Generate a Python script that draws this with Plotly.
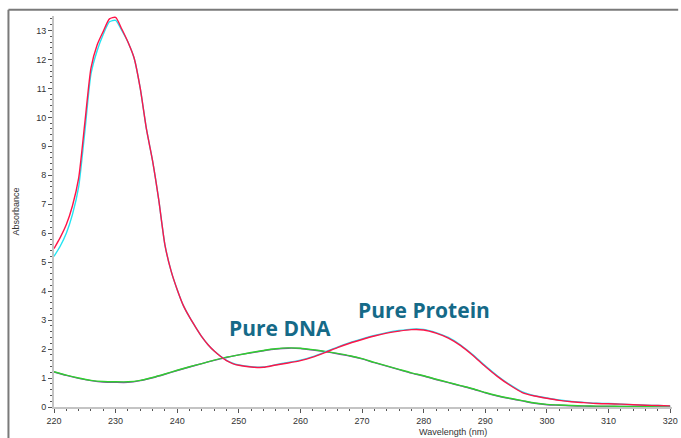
import plotly.graph_objects as go

# Protein spectrum (two replicate scans)
prot_wl = [220, 221, 222, 223, 224, 225, 226, 227, 228, 229, 230, 231, 232, 233, 234, 235, 236,
           237, 238, 239, 240, 241, 242, 243, 244, 245, 246, 247, 248, 249, 250, 252, 254, 256,
           258, 260, 262, 264, 266, 268, 270, 272, 274, 276, 278, 280, 282, 284, 286, 288, 290,
           292, 294, 296, 298, 300, 302, 304, 306, 308, 310, 312, 314, 316, 318, 320]
prot_a = [5.47, 5.85, 6.3, 6.95, 7.9, 9.8, 11.7, 12.5, 12.97, 13.4, 13.45, 13.05, 12.6, 12.05,
          11.0, 9.6, 8.5, 7.15, 5.6, 4.7, 4.05, 3.5, 3.1, 2.75, 2.42, 2.15, 1.93, 1.75, 1.6, 1.5,
          1.44, 1.38, 1.37, 1.45, 1.52, 1.6, 1.72, 1.88, 2.05, 2.2, 2.33, 2.45, 2.55, 2.62, 2.67,
          2.66, 2.55, 2.38, 2.12, 1.78, 1.4, 1.05, 0.75, 0.5, 0.38, 0.3, 0.23, 0.18, 0.15, 0.12,
          0.11, 0.1, 0.08, 0.06, 0.05, 0.04]
prot_b = [5.2, 5.55, 6.0, 6.65, 7.6, 9.5, 11.5, 12.3, 12.87, 13.3, 13.35, 13.0, 12.6, 12.05,
          11.0, 9.6, 8.5, 7.15, 5.6, 4.7, 4.05, 3.5, 3.1, 2.75, 2.42, 2.15, 1.93, 1.76, 1.61, 1.51,
          1.45, 1.39, 1.38, 1.46, 1.54, 1.62, 1.74, 1.9, 2.07, 2.22, 2.35, 2.47, 2.57, 2.64, 2.69,
          2.68, 2.57, 2.4, 2.14, 1.8, 1.42, 1.07, 0.77, 0.52, 0.39, 0.31, 0.24, 0.19, 0.16, 0.13,
          0.12, 0.1, 0.08, 0.06, 0.05, 0.04]

# DNA spectrum (two replicate scans)
dna_wl = [220, 222, 224, 226, 228, 230, 232, 234, 236, 238, 240, 242, 244, 246, 248, 250, 252,
          254, 256, 258, 260, 262, 264, 266, 268, 270, 272, 274, 276, 278, 280, 282, 284, 286,
          288, 290, 292, 294, 296, 298, 300, 302, 304, 306, 308, 310, 312, 314, 316, 318, 320]
dna_a = [1.22, 1.1, 1.0, 0.92, 0.88, 0.87, 0.87, 0.92, 1.02, 1.14, 1.27, 1.39, 1.5, 1.62, 1.72,
         1.8, 1.88, 1.95, 2.01, 2.04, 2.03, 1.98, 1.92, 1.85, 1.77, 1.67, 1.54, 1.42, 1.3, 1.18,
         1.08, 0.96, 0.85, 0.74, 0.63, 0.5, 0.39, 0.3, 0.22, 0.14, 0.09, 0.07, 0.05, 0.04, 0.03,
         0.03, 0.02, 0.02, 0.02, 0.01, 0.01]
dna_b = [1.21, 1.09, 0.99, 0.91, 0.86, 0.85, 0.85, 0.91, 1.01, 1.13, 1.26, 1.38, 1.5, 1.61, 1.71,
         1.8, 1.87, 1.94, 2.0, 2.03, 2.02, 1.97, 1.91, 1.84, 1.76, 1.66, 1.53, 1.41, 1.29, 1.17,
         1.07, 0.95, 0.84, 0.73, 0.62, 0.49, 0.38, 0.29, 0.21, 0.13, 0.08, 0.06, 0.04, 0.03, 0.02,
         0.02, 0.02, 0.01, 0.01, 0.01, 0.0]

x_ticks = list(range(220, 321, 10))
y_ticks = list(range(0, 14))

fig = go.Figure()
line_kw = dict(width=1.4, shape="spline", smoothing=0.6)
fig.add_trace(go.Scatter(x=dna_wl, y=dna_b, mode="lines", line=dict(color="#8a3fb0", **line_kw)))
fig.add_trace(go.Scatter(x=dna_wl, y=dna_a, mode="lines", line=dict(color="#2fcf2f", **line_kw)))
fig.add_trace(go.Scatter(x=prot_wl, y=prot_b, mode="lines", line=dict(color="#22e4f2", **line_kw)))
fig.add_trace(go.Scatter(x=prot_wl, y=prot_a, mode="lines", line=dict(color="#ff1448", **line_kw)))

axis_font = dict(family="Liberation Sans, Arial, sans-serif", size=9, color="#333333")
label_font = dict(family="Open Sans, Arial, sans-serif", size=21, color="#156a88")

fig.update_layout(
    width=681, height=438,
    margin=dict(l=54, r=3, t=16, b=31),
    paper_bgcolor="white", plot_bgcolor="white",
    showlegend=False,
    xaxis=dict(range=[220, 320.3], tickvals=x_ticks, ticks="outside", ticklen=4,
               tickcolor="#555555", showgrid=False, zeroline=False, showline=True,
               linecolor="#c4c4c4", linewidth=2, tickfont=axis_font,
               ticklabeloverflow="allow",
               minor=dict(dtick=2, ticks="outside", ticklen=2, tickcolor="#555555")),
    yaxis=dict(range=[0, 13.5], tickvals=y_ticks, ticks="outside", ticklen=4,
               tickcolor="#555555", showgrid=False, zeroline=False, showline=True,
               linecolor="#c4c4c4", linewidth=2, tickfont=axis_font,
               ticklabeloverflow="allow",
               minor=dict(dtick=0.2, ticks="outside", ticklen=2, tickcolor="#555555")),
    annotations=[
        dict(text="Absorbance", xref="paper", yref="paper", x=-0.0615, y=0.50,
             xanchor="center", yanchor="middle",
             textangle=-90, showarrow=False, font=axis_font),
        dict(text="Wavelength (nm)", xref="paper", yref="paper", x=0.646, y=-0.064,
             xanchor="center", yanchor="middle", showarrow=False, font=axis_font),
        dict(text="<b>Pure DNA</b>", xref="x", yref="y", x=256.6, y=2.73, showarrow=False,
             xanchor="center", yanchor="middle", font=label_font),
        dict(text="<b>Pure Protein</b>", xref="x", yref="y", x=280.1, y=3.35, showarrow=False,
             xanchor="center", yanchor="middle", font=label_font),
    ],
    shapes=[
        dict(type="line", xref="paper", yref="paper", x0=-0.0737, x1=-0.0737, y0=1.016, y1=-0.09,
             line=dict(color="#7a7a7a", width=2)),
        dict(type="line", xref="paper", yref="paper", x0=-0.0737, x1=1.01, y0=1.016, y1=1.016,
             line=dict(color="#7a7a7a", width=2)),
    ],
)

fig.write_html(
    "out.html",
    config={"displayModeBar": False},
    post_script="document.body.style.margin='0';document.body.style.overflow='hidden';",
)
